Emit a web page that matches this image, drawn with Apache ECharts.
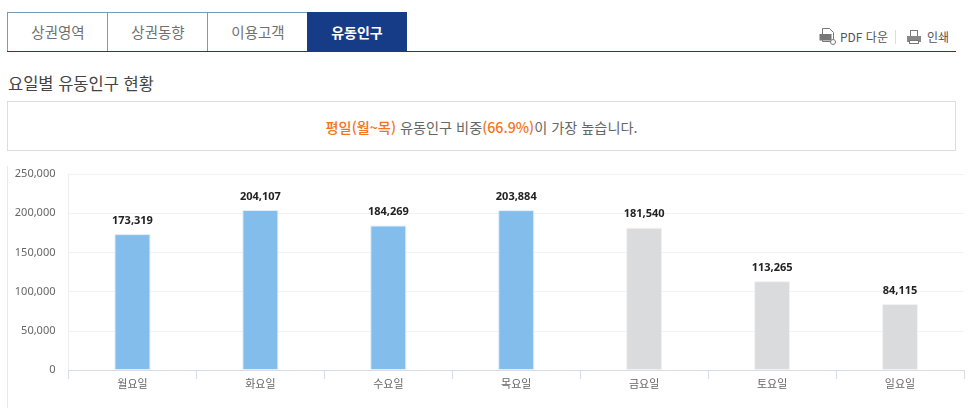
<!DOCTYPE html>
<html lang="ko">
<head>
<meta charset="utf-8">
<title>요일별 유동인구 현황</title>
<script src="https://cdn.jsdelivr.net/npm/echarts@6/dist/echarts.min.js"></script>
<style>
  html, body { margin: 0; padding: 0; background: #fff; }
  body { position: relative; width: 973px; height: 408px; overflow: hidden; font-family: "Noto Sans CJK KR", "Noto Sans", sans-serif; color: #555; }
  .abs { position: absolute; box-sizing: border-box; }
  .tab { top: 12px; height: 40px; width: 101px; border: 1px solid #7a9ab5; border-bottom: 0; border-right: 0; font-size: 14.5px; line-height: 38px; text-align: center; color: #707070; }
  .tab.on { background: #173c87; color: #fff; font-weight: bold; border: 0; line-height: 40px; width: 100px; font-size: 14px; }
  .rule { left: 7px; top: 51px; width: 949px; height: 1px; background: #173c87; }
  .tool { font-size: 12px; color: #555; top: 28px; line-height: 18px; white-space: nowrap; }
  .title { left: 8px; top: 72px; font-size: 16.5px; line-height: 22px; color: #444; }
  .note { left: 7px; top: 101px; width: 949px; height: 50px; border: 1px solid #ddd; text-align: center; font-size: 14.2px; line-height: 50px; color: #666; }
  .note b { color: #f47320; font-weight: 500; }
  .side { left: 7px; top: 166px; width: 1px; height: 242px; background: #e6e8ee; }
  #chart { left: 0; top: 160px; width: 973px; height: 248px; }
</style>
</head>
<body>
<div class="abs tab" style="left:7px">상권영역</div>
<div class="abs tab" style="left:107px">상권동향</div>
<div class="abs tab" style="left:207px">이용고객</div>
<div class="abs tab on" style="left:307px;top:12px">유동인구</div>
<div class="abs rule"></div>

<svg class="abs" style="left:819px;top:27px" width="18" height="19" viewBox="0 0 18 19">
  <path d="M3.5 1.5h7l4 4v9h-11z" fill="#fff" stroke="#777"/>
  <rect x="0.5" y="7" width="12" height="6.5" fill="#777"/>
  <circle cx="14" cy="15" r="2.5" fill="#fff" stroke="#777"/>
</svg>
<div class="abs tool" style="left:840px">PDF 다운</div>
<div class="abs" style="left:895px;top:30px;width:1px;height:14px;background:#ddd"></div>
<svg class="abs" style="left:906px;top:29px" width="16" height="16" viewBox="0 0 16 16">
  <rect x="4.5" y="1.5" width="7" height="6" fill="#fff" stroke="#777"/>
  <path d="M1 7h14v6H1z" fill="#888"/>
  <rect x="3.5" y="11.5" width="9" height="3" fill="#fff" stroke="#777"/>
</svg>
<div class="abs tool" style="left:927px">인쇄</div>

<div class="abs title">요일별 유동인구 현황</div>
<div class="abs note"><b>평일(월~목)</b> 유동인구 비중<b>(66.9%)</b>이 가장 높습니다.</div>
<div class="abs side"></div>
<div class="abs" id="chart"></div>

<script>
var days = ['월요일', '화요일', '수요일', '목요일', '금요일', '토요일', '일요일'];
var visitors = [173319, 204107, 184269, 203884, 181540, 113265, 84115];
var barColors = ['#82bdec', '#82bdec', '#82bdec', '#82bdec', '#dadbdd', '#dadbdd', '#dadbdd'];
var barEdges = ['#e3f0fb', '#e3f0fb', '#e3f0fb', '#e3f0fb', '#f3f3f4', '#f3f3f4', '#f3f3f4'];

var chart = echarts.init(document.getElementById('chart'));
var fontName = '"Noto Sans", "Noto Sans CJK KR", sans-serif';

chart.setOption({
  animation: false,
  textStyle: { fontFamily: fontName },
  grid: { left: 68.5, right: 9, top: 14, bottom: 38 },
  xAxis: {
    type: 'category',
    data: days,
    axisLine: { lineStyle: { color: '#d8dce8' } },
    axisTick: { show: true, length: 9, alignWithLabel: false, lineStyle: { color: '#d8dce8' } },
    axisLabel: { color: '#666', fontSize: 11, margin: 8, fontFamily: '"Noto Sans CJK KR", sans-serif' }
  },
  yAxis: {
    type: 'value',
    min: 0,
    max: 250000,
    interval: 50000,
    axisLine: { show: true, lineStyle: { color: '#eceef3' } },
    axisTick: { show: false },
    splitLine: { lineStyle: { color: '#f1f2f6' } },
    axisLabel: {
      color: '#666',
      fontSize: 11,
      margin: 13,
      padding: [0, 0, 2, 0],
      formatter: function (v) { return v.toLocaleString('en-US'); }
    }
  },
  series: [{
    type: 'bar',
    barWidth: 36,
    data: visitors.map(function (v, i) {
      return { value: v, itemStyle: { color: barColors[i], borderColor: barEdges[i], borderWidth: 1 } };
    }),
    label: {
      show: true,
      position: 'top',
      distance: 8,
      color: '#222',
      fontSize: 11,
      fontWeight: 'bold',
      formatter: function (p) { return p.value.toLocaleString('en-US'); }
    }
  }]
});
</script>
</body>
</html>
